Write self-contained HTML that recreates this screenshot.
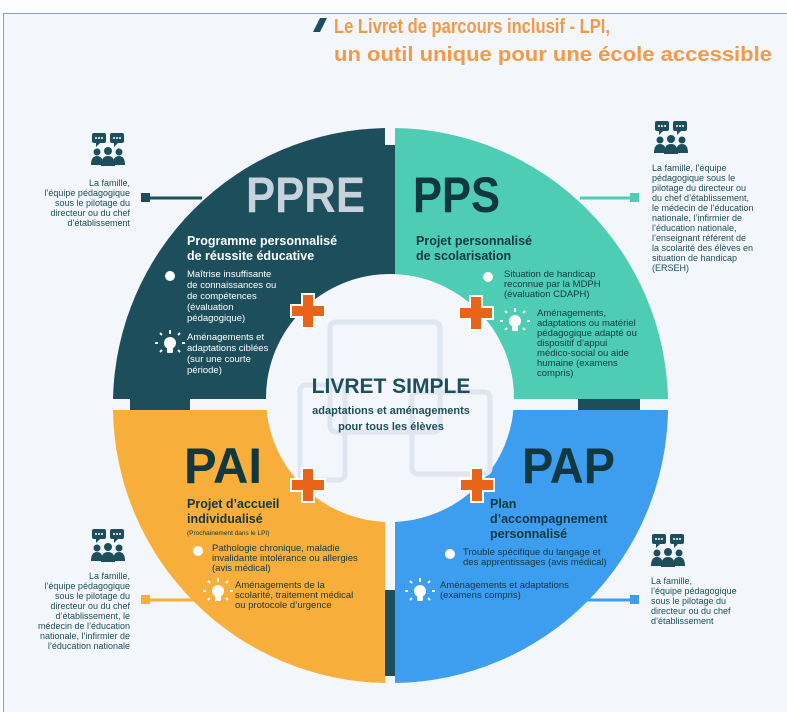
<!DOCTYPE html>
<html><head><meta charset="utf-8"><style>
html,body{margin:0;padding:0;background:#fff;}
svg{display:block;font-family:"Liberation Sans",sans-serif;}
</style></head><body>
<svg width="787" height="712" viewBox="0 0 787 712" xmlns="http://www.w3.org/2000/svg">
<defs>
<g id="plus"><path d="M-6,-17h12v11h11v12h-11v11h-12v-11h-11v-12h11z" fill="#e8641b" stroke="#fff" stroke-width="2"/></g>
<g id="ppl" fill="#1d4e5c">
<rect x="0" y="0" width="14" height="10" rx="2"/><path d="M4,10l0,4 4,-4z"/>
<rect x="18" y="0" width="14" height="10" rx="2"/><path d="M22,10l0,4 4,-4z"/>
<circle cx="5" cy="19" r="3.5"/><circle cx="16" cy="18" r="4"/><circle cx="27" cy="19" r="3.5"/>
<path d="M-1,32q0,-9 6,-9q6,0 6,9z"/><path d="M21,32q0,-9 6,-9q6,0 6,9z"/><path d="M9,33q0,-10 7,-10q7,0 7,10z"/>
<g fill="#fff"><circle cx="4" cy="5" r="1"/><circle cx="7" cy="5" r="1"/><circle cx="10" cy="5" r="1"/><circle cx="22" cy="5" r="1"/><circle cx="25" cy="5" r="1"/><circle cx="28" cy="5" r="1"/></g>
</g>
<g id="bulb" fill="#fff"><circle cx="0" cy="0" r="6"/><rect x="-3" y="5" width="6" height="5" rx="1"/>
<path d="M-12,0h-3M12,0h3M0,-9v-4M-8,-8l-2,-2M8,-8l2,-2M-8,7l-2,2M8,7l2,2" stroke="#fff" stroke-width="2"/></g>
</defs>
<rect x="0" y="0" width="787" height="712" fill="#fbfcfe"/>
<rect x="3.5" y="13.5" width="790" height="710" fill="#f3f6fb" stroke="#8aa3b8" stroke-width="1"/>
<!-- title -->
<path d="M313,32l7,-14h7l-7,14z" fill="#1d4e5c"/>
<g font-weight="bold" font-size="20" fill="#f29a4a">
<text x="334" y="33" textLength="276" lengthAdjust="spacingAndGlyphs">Le Livret de parcours inclusif - LPI,</text>
<text x="334" y="61" textLength="438" lengthAdjust="spacingAndGlyphs">un outil unique pour une école accessible</text>
</g>
<!-- quadrants -->
<path d="M385,405 V128 A277,277 0 0 0 113,399 H385z" fill="#1d4e5c"/>
<path d="M395,399 V128 A277,277 0 0 1 668,399 H395z" fill="#4ecdb4"/>
<path d="M385,410 H113 A277,277 0 0 0 385,683z" fill="#f7ae3a"/>
<path d="M395,410 H668 A277,277 0 0 1 395,683z" fill="#3d9ef0"/>
<!-- connector bars -->
<rect x="385" y="145" width="10" height="150" fill="#1d4e5c"/>
<rect x="385" y="590" width="10" height="86" fill="#1d4e5c"/>
<rect x="130" y="399" width="60" height="11" fill="#1d4e5c"/>
<rect x="578" y="399" width="62" height="11" fill="#1d4e5c"/>
<!-- inner -->
<circle cx="390" cy="398" r="124" fill="#f3f6fb"/>
<g fill="none" stroke="#dfe6f0" stroke-width="5">
<rect x="330" y="322" width="110" height="110" rx="6"/>
<rect x="300" y="385" width="45" height="95" rx="6"/>
<rect x="412" y="392" width="78" height="82" rx="6"/>
</g>
<text x="391" y="393" text-anchor="middle" font-weight="bold" font-size="21" fill="#1d4e5c">LIVRET SIMPLE</text>
<text x="391" y="414" text-anchor="middle" font-weight="bold" font-size="11" fill="#1d4e5c">adaptations et aménagements</text>
<text x="391" y="430" text-anchor="middle" font-weight="bold" font-size="11" fill="#1d4e5c">pour tous les élèves</text>
<use href="#plus" x="308" y="311"/><use href="#plus" x="476" y="313"/>
<use href="#plus" x="308" y="485"/><use href="#plus" x="477" y="485"/>
<!-- PPRE -->
<text x="246" y="212" font-weight="bold" font-size="50" fill="#c7d3db" textLength="119" lengthAdjust="spacingAndGlyphs">PPRE</text>
<g fill="#fff"><text font-weight="bold" font-size="12.5"><tspan x="187" y="245">Programme personnalisé</tspan><tspan x="187" y="260">de réussite éducative</tspan></text>
<circle cx="170" cy="276" r="5"/>
<text font-size="9.5"><tspan x="187" y="277">Maîtrise insuffisante</tspan><tspan x="187" y="288">de connaissances ou</tspan><tspan x="187" y="299">de compétences</tspan><tspan x="187" y="310">(évaluation</tspan><tspan x="187" y="321">pédagogique)</tspan></text>
<use href="#bulb" x="170" y="343"/>
<text font-size="9.5"><tspan x="187" y="340">Aménagements et</tspan><tspan x="187" y="351">adaptations ciblées</tspan><tspan x="187" y="362">(sur une courte</tspan><tspan x="187" y="373">période)</tspan></text></g>
<!-- PPS -->
<text x="413" y="212" font-weight="bold" font-size="50" fill="#12383f" textLength="87" lengthAdjust="spacingAndGlyphs">PPS</text>
<g fill="#12383f"><text font-weight="bold" font-size="12.5"><tspan x="416" y="245">Projet personnalisé</tspan><tspan x="416" y="260">de scolarisation</tspan></text>
<text font-size="9.5"><tspan x="504" y="277">Situation de handicap</tspan><tspan x="504" y="287">reconnue par la MDPH</tspan><tspan x="504" y="297">(évaluation CDAPH)</tspan></text>
<text font-size="9.5"><tspan x="537" y="316">Aménagements,</tspan><tspan x="537" y="326">adaptations ou matériel</tspan><tspan x="537" y="336">pédagogique adapté ou</tspan><tspan x="537" y="346">dispositif d’appui</tspan><tspan x="537" y="356">médico-social ou aide</tspan><tspan x="537" y="366">humaine (examens</tspan><tspan x="537" y="376">compris)</tspan></text></g>
<circle cx="488" cy="277" r="5" fill="#fff"/><use href="#bulb" x="515" y="321"/>
<!-- PAI -->
<text x="184" y="483" font-weight="bold" font-size="50" fill="#12383f" textLength="78" lengthAdjust="spacingAndGlyphs">PAI</text>
<g fill="#12383f"><text font-weight="bold" font-size="12.5"><tspan x="187" y="508">Projet d’accueil</tspan><tspan x="187" y="523">individualisé</tspan></text>
<text x="187" y="535" font-size="6.5">(Prochainement dans le LPI)</text>
<text font-size="9.5"><tspan x="212" y="551">Pathologie chronique, maladie</tspan><tspan x="212" y="561">invalidante intolérance ou allergies</tspan><tspan x="212" y="571">(avis médical)</tspan></text>
<text font-size="9.5"><tspan x="235" y="588">Aménagements de la</tspan><tspan x="235" y="598">scolarité, traitement médical</tspan><tspan x="235" y="608">ou protocole d’urgence</tspan></text></g>
<circle cx="198" cy="551" r="5" fill="#fff"/><use href="#bulb" x="218" y="591"/>
<!-- PAP -->
<text x="522" y="483" font-weight="bold" font-size="50" fill="#12383f" textLength="93" lengthAdjust="spacingAndGlyphs">PAP</text>
<g fill="#12383f"><text font-weight="bold" font-size="12.5"><tspan x="490" y="508">Plan</tspan><tspan x="490" y="523">d’accompagnement</tspan><tspan x="490" y="538">personnalisé</tspan></text>
<text font-size="9.5"><tspan x="463" y="555">Trouble spécifique du langage et</tspan><tspan x="463" y="565">des apprentissages (avis médical)</tspan></text>
<text font-size="9.5"><tspan x="440" y="588">Aménagements et adaptations</tspan><tspan x="440" y="598">(examens compris)</tspan></text></g>
<circle cx="450" cy="554" r="5" fill="#fff"/><use href="#bulb" x="420" y="591"/>
<!-- side connectors -->
<line x1="146" y1="198" x2="202" y2="198" stroke="#1d4e5c" stroke-width="3"/><rect x="141" y="193" width="9" height="9" fill="#1d4e5c"/>
<line x1="580" y1="198" x2="632" y2="198" stroke="#4ecdb4" stroke-width="3"/><rect x="630" y="193" width="9" height="9" fill="#4ecdb4"/>
<line x1="146" y1="600" x2="196" y2="600" stroke="#f7ae3a" stroke-width="3"/><rect x="141" y="595" width="9" height="9" fill="#f7ae3a"/>
<line x1="585" y1="600" x2="634" y2="600" stroke="#3d9ef0" stroke-width="3"/><rect x="630" y="595" width="9" height="9" fill="#3d9ef0"/>
<!-- side icons -->
<use href="#ppl" x="92" y="133"/><use href="#ppl" x="655" y="121"/>
<use href="#ppl" x="92" y="529"/><use href="#ppl" x="652" y="534"/>
<g fill="#1d4e5c" font-size="9">
<text text-anchor="end"><tspan x="130" y="186">La famille,</tspan><tspan x="130" y="196">l’équipe pédagogique</tspan><tspan x="130" y="206">sous le pilotage du</tspan><tspan x="130" y="216">directeur ou du chef</tspan><tspan x="130" y="226">d’établissement</tspan></text>
<text><tspan x="652" y="171">La famille, l’équipe</tspan><tspan x="652" y="181">pédagogique sous le</tspan><tspan x="652" y="191">pilotage du directeur ou</tspan><tspan x="652" y="201">du chef d’établissement,</tspan><tspan x="652" y="211">le médecin de l’éducation</tspan><tspan x="652" y="221">nationale, l’infirmier de</tspan><tspan x="652" y="231">l’éducation nationale,</tspan><tspan x="652" y="241">l’enseignant référent de</tspan><tspan x="652" y="251">la scolarité des élèves en</tspan><tspan x="652" y="261">situation de handicap</tspan><tspan x="652" y="271">(ERSEH)</tspan></text>
<text text-anchor="end"><tspan x="130" y="579">La famille,</tspan><tspan x="130" y="589">l’équipe pédagogique</tspan><tspan x="130" y="599">sous le pilotage du</tspan><tspan x="130" y="609">directeur ou du chef</tspan><tspan x="130" y="619">d’établissement, le</tspan><tspan x="130" y="629">médecin de l’éducation</tspan><tspan x="130" y="639">nationale, l’infirmier de</tspan><tspan x="130" y="649">l’éducation nationale</tspan></text>
<text><tspan x="651" y="584">La famille,</tspan><tspan x="651" y="594">l’équipe pédagogique</tspan><tspan x="651" y="604">sous le pilotage du</tspan><tspan x="651" y="614">directeur ou du chef</tspan><tspan x="651" y="624">d’établissement</tspan></text>
</g>
</svg>
</body></html>
